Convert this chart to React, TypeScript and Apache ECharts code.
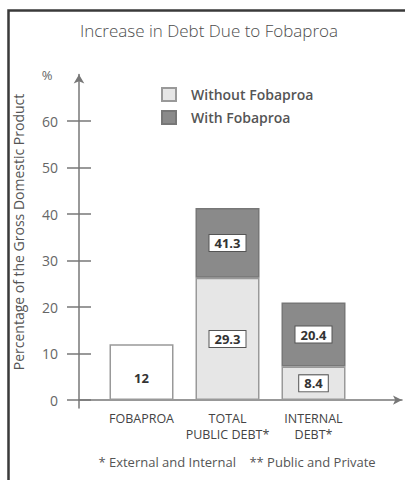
import React, { useEffect, useRef } from "react";
import * as echarts from "echarts";

const title = "Increase in Debt Due to Fobaproa";
const yAxisTitle = "Percentage of the Gross Domestic Product";
const footnote = "* External and Internal    ** Public and Private";
const categories = ["FOBAPROA", "TOTAL\nPUBLIC DEBT*", "INTERNAL\nDEBT*"];
const tickValues = [0, 10, 20, 30, 40, 50, 60];
// bar heights as drawn in the picture
const fobaproaBar = [12, null, null];
const withoutBar = [null, 26.3, 7.2];
const withIncrement = [null, 15.0, 13.8];
// printed labels
const fobaproaLabels = ["12", "", ""];
const withoutLabels = ["", "29.3", "8.4"];
const withLabels = ["", "41.3", "20.4"];

const FONT = "'Open Sans', 'Noto Sans', sans-serif";

export default function App() {
  const ref = useRef<HTMLDivElement>(null);
  useEffect(() => {
    if (!ref.current) return;
    const chart = echarts.init(ref.current, null, { renderer: "svg" });
    const top = 74.5;
    const bottom = 72;
    const yMin = -1.7;
    const yMax = 70;
    const boxLabel = (arr: string[]) => ({
      show: true,
      position: "inside",
      formatter: (p: any) => arr[p.dataIndex],
      fontFamily: FONT,
      fontSize: 13,
      fontWeight: "bold",
      color: "#333",
      backgroundColor: "#fff",
      borderColor: "#555",
      borderWidth: 1,
      padding: [2, 5, 1, 5],
    });
    chart.setOption({
      animation: false,
      textStyle: { fontFamily: FONT },
      title: {
        text: title,
        left: 204,
        textAlign: "center",
        top: 17,
        textStyle: { fontFamily: FONT, fontSize: 17, fontWeight: 300, color: "#4d4d4d" },
      },
      legend: {
        orient: "vertical",
        left: 161,
        top: 87,
        padding: 0,
        itemWidth: 14,
        itemHeight: 13,
        itemGap: 8,
        icon: "rect",
        data: ["Without Fobaproa", "With Fobaproa"],
        textStyle: {
          fontFamily: FONT,
          fontSize: 14,
          fontWeight: 600,
          color: "#555",
          padding: [0, 0, 0, 10],
        },
      },
      grid: [
        { left: 98.5, width: 258, top, bottom },
        { left: 79, right: 3, top, bottom },
      ],
      xAxis: [
        {
          type: "category",
          gridIndex: 0,
          data: categories,
          axisLine: { show: false },
          axisTick: { show: false },
          axisLabel: {
            interval: 0,
            margin: 3,
            fontFamily: FONT,
            fontSize: 12.5,
            lineHeight: 15.5,
            color: "#444",
          },
        },
        {
          type: "value",
          gridIndex: 1,
          min: 0,
          max: 1,
          axisLine: {
            show: true,
            onZero: true,
            symbol: ["none", "arrow"],
            symbolSize: [7, 9],
            lineStyle: { color: "#777", width: 1.5 },
          },
          axisTick: { show: false },
          axisLabel: { show: false },
          splitLine: { show: false },
        },
      ],
      yAxis: [
        {
          type: "value",
          gridIndex: 0,
          min: yMin,
          max: yMax,
          show: false,
          splitLine: { show: false },
        },
        {
          type: "value",
          gridIndex: 1,
          position: "left",
          min: yMin,
          max: yMax,
          axisLine: {
            show: true,
            symbol: ["none", "arrow"],
            symbolSize: [8, 9],
            lineStyle: { color: "#777", width: 1.5 },
          },
          axisTick: {
            show: true,
            length: 12,
            customValues: tickValues,
            lineStyle: { color: "#777", width: 1.5 },
          },
          axisLabel: {
            show: true,
            customValues: tickValues,
            margin: 21,
            fontFamily: FONT,
            fontSize: 14,
            color: "#666",
          },
          splitLine: { show: false },
        },
        {
          type: "value",
          gridIndex: 1,
          position: "left",
          offset: 0,
          min: yMin,
          max: yMax,
          axisLine: { show: false },
          axisTick: {
            show: true,
            inside: true,
            length: 12,
            customValues: tickValues,
            lineStyle: { color: "#777", width: 1.5 },
          },
          axisLabel: { show: false },
          splitLine: { show: false },
        },
      ],
      series: [
        {
          name: "Fobaproa",
          type: "bar",
          stack: "a",
          xAxisIndex: 0,
          yAxisIndex: 0,
          barWidth: 64,
          data: fobaproaBar,
          itemStyle: { color: "#fff", borderColor: "#999", borderWidth: 1.5 },
          label: {
            show: true,
            position: "inside",
            offset: [0, 6],
            formatter: (p: any) => fobaproaLabels[p.dataIndex],
            fontFamily: FONT,
            fontSize: 13,
            fontWeight: "bold",
            color: "#333",
          },
        },
        {
          name: "Without Fobaproa",
          type: "bar",
          stack: "a",
          xAxisIndex: 0,
          yAxisIndex: 0,
          barWidth: 64,
          data: withoutBar,
          itemStyle: { color: "#e6e6e6", borderColor: "#999", borderWidth: 1.5 },
          label: boxLabel(withoutLabels),
        },
        {
          name: "With Fobaproa",
          type: "bar",
          stack: "a",
          xAxisIndex: 0,
          yAxisIndex: 0,
          barWidth: 64,
          data: withIncrement,
          itemStyle: { color: "#8a8a8a", borderColor: "#777", borderWidth: 1.5 },
          label: boxLabel(withLabels),
        },
      ],
      graphic: [
        {
          type: "polyline",
          shape: { points: [[8.5, 480], [8.5, 10.5], [405, 10.5]] },
          style: { stroke: "#3a3a3a", lineWidth: 2.5, fill: null },
          silent: true,
        },
        {
          type: "text",
          x: 18,
          y: 232,
          rotation: Math.PI / 2,
          style: {
            text: yAxisTitle,
            align: "center",
            verticalAlign: "middle",
            fontFamily: FONT,
            fontSize: 14,
            fill: "#555",
          },
        },
        {
          type: "text",
          x: 47,
          y: 75,
          style: {
            text: "%",
            align: "center",
            verticalAlign: "middle",
            fontFamily: FONT,
            fontSize: 13,
            fill: "#666",
          },
        },
        {
          type: "text",
          x: 237,
          y: 462,
          style: {
            text: footnote,
            align: "center",
            verticalAlign: "middle",
            fontFamily: FONT,
            fontSize: 13,
            fill: "#555",
          },
        },
      ],
    });
    return () => chart.dispose();
  }, []);
  return (
    <div
      ref={ref}
      style={{ position: "fixed", left: 0, top: 0, width: 405, height: 480, background: "#fff" }}
    />
  );
}
